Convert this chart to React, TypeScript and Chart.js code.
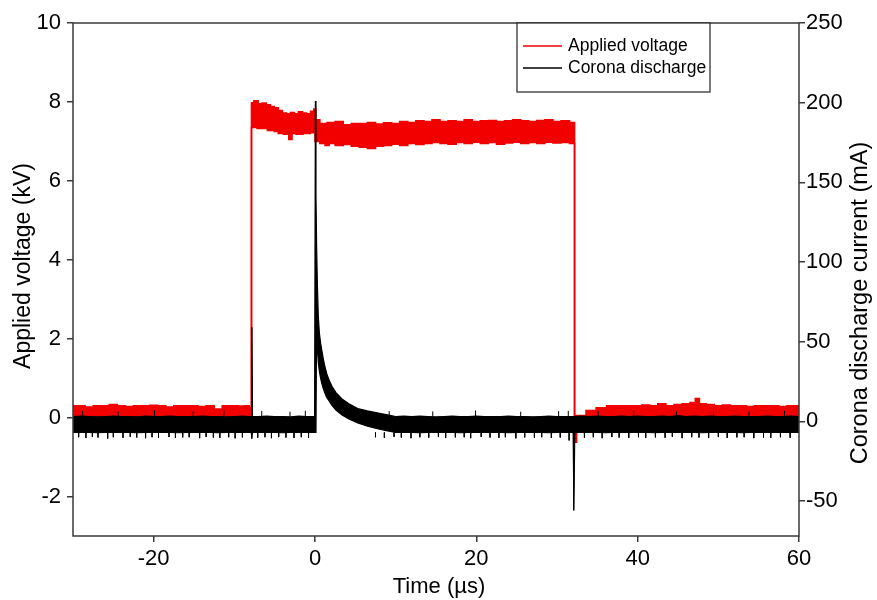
import React, { useEffect, useRef } from "react";
import { Chart, registerables } from "chart.js";

Chart.register(...registerables);

// ---------- data ----------
const xTicks = [-20, 0, 20, 40, 60];
const voltTicks = [-2, 0, 2, 4, 6, 8, 10];
const currTicks = [-50, 0, 50, 100, 150, 200, 250];

// Applied voltage (kV): upper edge of the noisy trace
const voltUpperT = [
  -30, -29, -28, -27, -26, -25, -24, -23, -22, -21, -20, -19, -18, -17, -16, -15, -14, -13, -12, -11, -10, -9, -8.4, -7.9,
  -7.85, -7.3, -6.8, -6.3, -5.8, -5.3, -4.8, -4.3, -3.8, -3.3, -2.8, -2.3, -1.8, -1.3, -0.8, -0.3, 0, 0.2,
  1, 2, 3, 4, 5, 6, 7, 8, 9, 10, 11, 12, 13, 14, 15, 16, 17, 18, 19, 20, 21, 22, 23, 24, 25, 26, 27, 28, 29, 30, 31, 32.1,
  32.25, 33, 34.2, 35.5, 36.8, 38, 39, 40, 41, 42, 43, 44, 45, 46, 47, 47.3, 48, 49, 50, 51, 52, 53, 54, 55, 56, 57, 58, 59, 60,
];
const voltUpperKV = [
  0.3, 0.3, 0.27, 0.3, 0.3, 0.33, 0.3, 0.28, 0.3, 0.3, 0.31, 0.3, 0.27, 0.3, 0.3, 0.3, 0.28, 0.3, 0.22, 0.3, 0.3, 0.29, 0.3, 0.25,
  7.98, 8.03, 7.95, 7.97, 7.93, 7.88, 7.85, 7.78, 7.72, 7.7, 7.73, 7.7, 7.75, 7.72, 7.7, 7.76, 7.82, 7.55,
  7.45, 7.48, 7.5, 7.42, 7.45, 7.45, 7.48, 7.44, 7.47, 7.45, 7.5, 7.48, 7.52, 7.5, 7.55, 7.5, 7.52, 7.5, 7.55, 7.5, 7.52, 7.53, 7.5, 7.52, 7.55, 7.52, 7.5, 7.53, 7.55, 7.5, 7.52, 7.48,
  0.05, 0.05, 0.18, 0.25, 0.3, 0.3, 0.3, 0.3, 0.32, 0.3, 0.35, 0.3, 0.33, 0.35, 0.38, 0.48, 0.35, 0.33, 0.3, 0.32, 0.3, 0.3, 0.28, 0.3, 0.3, 0.3, 0.28, 0.3, 0.3,
];
// Applied voltage (kV): lower edge of the noisy trace
const voltLowerT = [
  -30, -7.9, -7.85, -6.5, -5.3, -4.8, -4.3, -3.5, -3, -2.7, -2, -1, -0.2,
  0.2, 1, 1.5, 2,
  3, 4, 5, 6, 7, 8, 9, 10, 11, 12, 13, 14, 15, 16, 17, 18, 19, 20, 21, 22, 23, 24, 25, 26, 27, 28, 29, 30, 31,
  32.1, 32.25, 32.6, 33, 60,
];
const voltLowerKV = [
  0, 0, 7.35, 7.33, 7.28, 7.25, 7.2, 7.18, 7.05, 7.2, 7.18, 7.2, 7.22,
  7.0, 6.95, 6.9, 6.95,
  6.9, 6.92, 6.88, 6.85, 6.82, 6.88, 6.9, 6.93, 6.9, 6.95, 6.92, 6.95, 6.97, 6.95, 6.93, 6.97, 6.95, 6.98, 6.95, 6.97, 6.93, 6.96, 6.98, 6.95, 6.97, 6.95, 6.98, 6.96, 6.97,
  6.95, -0.62, -0.3, 0, 0,
];

// Corona discharge current (mA): upper edge
const currUpperT = [
  -30, -29, -28, -27, -26, -25, -24, -23, -22, -21, -20, -19, -18, -17, -16, -15, -14, -13, -12, -11, -10, -9,
  -8.3, -7.9, -7.82, -7.75, -7, -6, -5, -4, -3, -2, -1, -0.3, -0.05,
  0.05, 0.12, 0.2, 0.3, 0.41, 0.55, 0.7, 0.83, 1.0, 1.2, 1.45, 1.73, 2.1, 2.6, 3.35, 4.2, 5.3, 6.5, 8, 9,
  10, 11, 12, 13, 14, 15, 16, 17, 18, 19, 20, 21, 22, 23, 24, 25, 26, 27, 28, 29, 30, 31, 32, 33, 34, 35,
  36, 37, 38, 39, 40, 41, 42, 43, 44, 45, 46, 47, 48, 49, 50, 51, 52, 53, 54, 55, 56, 57, 58, 59, 60,
];
const currUpperMA = [
  3, 3.2, 3, 2.8, 3, 3.3, 3, 3, 2.8, 3.2, 3, 3, 3.3, 3, 2.9, 3, 3.2, 3, 3, 2.8, 3, 3.2,
  3, 3, 59, 3, 3, 3.2, 3, 3, 2.8, 3.2, 3, 3, 3,
  201, 142, 110, 85, 66, 55, 49, 45, 40, 35, 30, 26, 22, 18, 14, 11, 8, 6.5, 5, 4,
  3, 3.2, 3, 3.3, 3, 2.8, 3, 3.2, 3, 3, 3.3, 3, 2.9, 3, 3.2, 3, 3, 2.8, 3, 3.2, 3, 3, 3, 3.2, 3, 3.3,
  3, 3, 3.2, 3, 3.3, 3, 3, 3.2, 3, 3.5, 3, 3.3, 3, 3.2, 3, 3, 3.3, 3, 2.9, 3, 3.2, 3, 3, 3.2, 3,
];
// Corona discharge current (mA): lower edge
const currLowerT = [
  -30, -29, -28, -27, -26, -25, -24, -23, -22, -21, -20, -19, -18, -17, -16, -15, -14, -13, -12, -11, -10, -9,
  -8.3, -7.9, -7.82, -7.75, -7, -6, -5, -4, -3, -2, -1, -0.3, -0.05,
  0.12, 0.2, 0.3, 0.41, 0.55, 0.7, 0.83, 1.0, 1.2, 1.45, 1.73, 2.1, 2.6, 3.35, 4.2, 5.3, 6.5, 8, 9,
  10, 11, 12, 13, 14, 15, 16, 17, 18, 19, 20, 21, 22, 23, 24, 25, 26, 27, 28, 29, 30, 31,
  32.0, 32.1, 32.2, 33, 34, 35, 36, 37, 38, 39, 40, 41, 42, 43, 44, 45, 46, 47, 48, 49, 50, 51, 52, 53, 54, 55, 56, 57, 58, 59, 60,
];
const currLowerMA = [
  -7, -6.8, -7, -7.2, -7, -6.8, -7, -7, -7.2, -7, -6.8, -7, -7, -7.2, -7, -7, -6.8, -7, -7.2, -7, -7, -6.8,
  -7, -7, -11, -7, -7, -6.8, -7, -7.2, -7, -7, -6.8, -7, -7,
  -7, 60, 45, 37, 31, 27, 24, 21, 18, 15, 13, 10, 7, 4, 1.5, -1, -3, -5, -6,
  -7, -6.8, -7, -7.2, -7, -7, -6.8, -7, -7.2, -7, -7, -6.8, -7, -7, -7.2, -7, -6.8, -7, -7, -7.2, -7, -7,
  -7, -56, -7, -7, -6.8, -7, -7.2, -7, -7, -6.8, -7, -7, -7.2, -7, -7, -6.8, -7, -7, -7.2, -7, -6.8, -7, -7, -7.2, -7, -7, -6.8, -7, -7, -7, -7,
];
// Noise spikes of the current trace (start on the band edge, end at the tip)
const currBandLow = -7;
const currBandHigh = 3;
const currDownSpikeT = [
  -29.3, -28.4, -27.6, -26.9, -25.7, -25.0, -23.8, -22.9, -22.1, -21.0, -20.2, -19.4, -18.1, -17.3, -16.4, -15.6, -14.3, -13.5, -12.6, -11.8, -10.7, -9.9, -9.0,
  -7.1, -6.2, -5.4, -4.5, -3.6, -2.6, -1.7, -0.8,
  7.5, 8.6, 9.8, 10.7, 11.9, 13.0, 14.1, 15.3, 16.2, 17.4, 18.5, 19.3, 20.6, 21.7, 22.8, 23.6, 24.9, 26.0, 27.2, 28.1, 29.3, 30.4, 31.5,
  33.4, 34.5, 35.6, 36.8, 37.7, 38.9, 40.1, 41.0, 42.2, 43.4, 44.3, 45.5, 46.7, 47.6, 48.8, 50.0, 51.1, 52.3, 53.2, 54.4, 55.6, 56.5, 57.7, 58.9,
];
const currDownSpikeMA = [
  -10, -10.5, -9.8, -10.2, -10.8, -10, -10.4, -9.8, -10.2, -10.6, -10, -10.3, -9.9, -10.5, -10.1, -10, -10.6, -9.8, -10.2, -10.4, -10, -10.7, -10.1,
  -10.3, -10, -10.6, -9.9, -10.2, -10.5, -10, -10.4,
  -10, -10.4, -9.8, -10.2, -10.6, -10, -10.3, -9.9, -10.5, -10.1, -10, -10.6, -9.8, -10.2, -10.4, -10, -10.7, -10.1, -10.3, -10, -10.5, -10.2, -12,
  -10.3, -10, -10.6, -9.9, -10.2, -10.5, -10, -10.4, -10.1, -10.3, -9.8, -10.6, -10, -10.2, -10.4, -9.9, -10.5, -10.1, -10, -10.6, -10.2, -10.4, -10, -10.3,
];
const currUpSpikeT = [
  -28.8, -24.4, -19.9, -15.1, -11.3, -6.6, -3.1, -1.2, 9.2, 14.6, 19.9, 25.5, 30.2, 31.4, 35.1, 39.5, 44.8, 49.4, 53.8, 58.2,
];
const currUpSpikeMA = [
  6.5, 6, 7, 6.2, 6.8, 6.5, 6, 6.6, 6.4, 6.2, 6.8, 6, 6.4, 6.5, 6.2, 6.8, 6.3, 6.6, 6.1, 6.5,
];

// ---------- styling ----------
const FONT = '"Liberation Sans", Arial, Helvetica, sans-serif';
const AXIS_COLOR = "#3a3a3a";
const RED = "#f20000";

const toPoints = (ts: number[], vs: number[]) => ts.map((t, i) => ({ x: t, y: vs[i] }));
const toSpikes = (ts: number[], tips: number[], base: number) =>
  ts.flatMap((t, i) => [
    { x: t, y: base },
    { x: t, y: tips[i] },
    { x: t, y: null as any },
  ]);

const overlayPlugin = {
  id: "overlay",
  afterDraw(chart: any) {
    const { ctx, chartArea: a } = chart;
    ctx.save();
    ctx.strokeStyle = AXIS_COLOR;
    ctx.lineWidth = 1.5;
    ctx.strokeRect(a.left, a.top, a.right - a.left, a.bottom - a.top);

    ctx.fillStyle = "#000";
    ctx.textAlign = "center";
    ctx.textBaseline = "middle";
    ctx.font = `22px ${FONT}`;
    ctx.fillText("Time (µs)", 439, 587);
    ctx.font = `23px ${FONT}`;
    ctx.save();
    ctx.translate(24, 266);
    ctx.rotate(-Math.PI / 2);
    ctx.fillText("Applied voltage (kV)", 0, 0);
    ctx.restore();
    ctx.font = `23.5px ${FONT}`;
    ctx.save();
    ctx.translate(861, 303);
    ctx.rotate(-Math.PI / 2);
    ctx.fillText("Corona discharge current (mA)", 0, 0);
    ctx.restore();

    // legend box
    const bx = 517, by = a.top, bw = 193, bh = 69;
    ctx.fillStyle = "#fff";
    ctx.fillRect(bx, by, bw, bh);
    ctx.strokeStyle = "#222";
    ctx.lineWidth = 1.2;
    ctx.strokeRect(bx, by, bw, bh);
    ctx.lineWidth = 1.5;
    ctx.strokeStyle = RED;
    ctx.beginPath();
    ctx.moveTo(523, 46);
    ctx.lineTo(562, 46);
    ctx.stroke();
    ctx.strokeStyle = "#000";
    ctx.beginPath();
    ctx.moveTo(523, 68);
    ctx.lineTo(562, 68);
    ctx.stroke();
    ctx.fillStyle = "#000";
    ctx.font = `17.5px ${FONT}`;
    ctx.textAlign = "left";
    ctx.fillText("Applied voltage", 568, 46);
    ctx.fillText("Corona discharge", 568, 68);
    ctx.restore();
  },
};

export default function App() {
  const ref = useRef<HTMLCanvasElement>(null);
  useEffect(() => {
    if (!ref.current) return;
    const tickFont = { family: FONT, size: 22 };
    const grid = {
      display: true,
      drawOnChartArea: false,
      drawTicks: true,
      tickLength: 6,
      color: AXIS_COLOR,
      lineWidth: 1.5,
    };
    const chart = new Chart(ref.current, {
      type: "line",
      data: {
        datasets: [
          {
            label: "Corona discharge spikes",
            data: [
              ...toSpikes(currDownSpikeT, currDownSpikeMA, currBandLow),
              ...toSpikes(currUpSpikeT, currUpSpikeMA, currBandHigh),
            ],
            yAxisID: "y2",
            borderColor: "#000",
            borderWidth: 1,
            pointRadius: 0,
            spanGaps: false,
            fill: false,
            order: 0,
          },
          {
            label: "Corona discharge",
            data: toPoints(currUpperT, currUpperMA),
            yAxisID: "y2",
            borderColor: "#000",
            backgroundColor: "#000",
            borderWidth: 1.2,
            pointRadius: 0,
            fill: 2,
            order: 1,
          },
          {
            label: "Corona discharge (lower)",
            data: toPoints(currLowerT, currLowerMA),
            yAxisID: "y2",
            borderColor: "#000",
            borderWidth: 1.2,
            pointRadius: 0,
            fill: false,
            order: 1,
          },
          {
            label: "Applied voltage",
            data: toPoints(voltUpperT, voltUpperKV),
            yAxisID: "y",
            borderColor: RED,
            backgroundColor: RED,
            borderWidth: 1.6,
            pointRadius: 0,
            stepped: "middle",
            fill: 4,
            order: 2,
          },
          {
            label: "Applied voltage (lower)",
            data: toPoints(voltLowerT, voltLowerKV),
            yAxisID: "y",
            borderColor: RED,
            borderWidth: 1.6,
            pointRadius: 0,
            stepped: "middle",
            fill: false,
            order: 2,
          },
        ],
      },
      options: {
        animation: false,
        responsive: false,
        devicePixelRatio: 1,
        layout: { padding: { top: 23, left: 0, right: 0, bottom: 0 } },
        plugins: {
          legend: { display: false },
          tooltip: { enabled: false },
          filler: { propagate: false },
        },
        elements: { line: { tension: 0 } },
        scales: {
          x: {
            type: "linear",
            min: -30,
            max: 60,
            grid: grid as any,
            border: { display: false },
            ticks: { font: tickFont, color: "#000", padding: 4, maxRotation: 0 },
            afterBuildTicks: (s: any) => {
              s.ticks = xTicks.map((v) => ({ value: v }));
            },
            afterFit: (s: any) => {
              s.height = 64;
            },
          },
          y: {
            type: "linear",
            position: "left",
            min: -3,
            max: 10,
            grid: grid as any,
            border: { display: false },
            ticks: { font: tickFont, color: "#000", padding: 6 },
            afterBuildTicks: (s: any) => {
              s.ticks = voltTicks.map((v) => ({ value: v }));
            },
            afterFit: (s: any) => {
              s.width = 73;
            },
          },
          y2: {
            type: "linear",
            position: "right",
            min: -72,
            max: 250,
            grid: grid as any,
            border: { display: false },
            ticks: { font: tickFont, color: "#000", padding: 1 },
            afterBuildTicks: (s: any) => {
              s.ticks = currTicks.map((v) => ({ value: v }));
            },
            afterFit: (s: any) => {
              s.width = 78;
            },
          },
        },
      },
      plugins: [overlayPlugin],
    });
    return () => chart.destroy();
  }, []);
  return (
    <div style={{ position: "fixed", left: 0, top: 0, width: 877, height: 600, background: "#fff" }}>
      <canvas ref={ref} width={877} height={600} style={{ display: "block" }} />
    </div>
  );
}
